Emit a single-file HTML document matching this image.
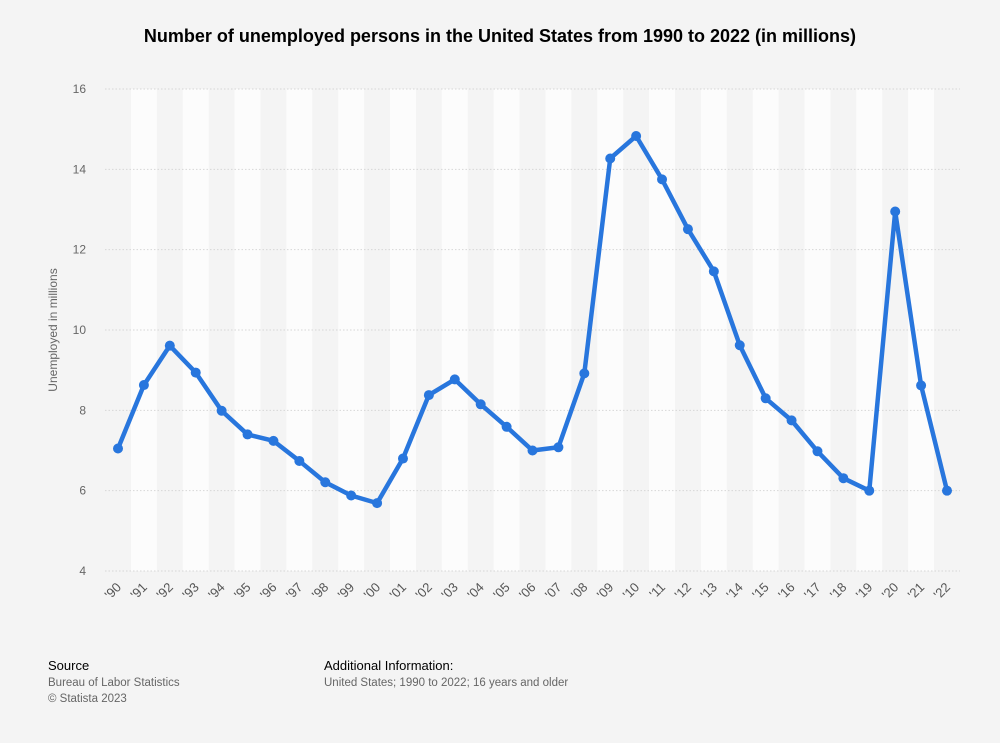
<!DOCTYPE html>
<html><head><meta charset="utf-8"><style>
body{margin:0;background:#f4f4f4;font-family:"Liberation Sans",Arial,sans-serif;}
svg{display:block}
</style></head><body>
<svg id="chart" width="1000" height="743" viewBox="0 0 1000 743">
<rect width="1000" height="743" fill="#f4f4f4"/>
<text x="500" y="42" text-anchor="middle" font-size="18" font-weight="bold" fill="#000">Number of unemployed persons in the United States from 1990 to 2022 (in millions)</text>
<g id="bands"></g><g id="grid"></g><g id="xt"></g><g id="yt"></g><g id="series"></g>
<text transform="translate(57,330) rotate(-90)" text-anchor="middle" font-size="12" fill="#666">Unemployed in millions</text>
<text x="48" y="670" font-size="13" fill="#000">Source</text>
<text x="48" y="686" font-size="11.5" fill="#666">Bureau of Labor Statistics</text>
<text x="48" y="702" font-size="11.5" fill="#666">© Statista 2023</text>
<text x="324" y="670" font-size="13" fill="#000">Additional Information:</text>
<text x="324" y="686" font-size="11.5" fill="#666">United States; 1990 to 2022; 16 years and older</text>
</svg>
<script>
const years=["'90","'91","'92","'93","'94","'95","'96","'97","'98","'99","'00","'01","'02","'03","'04","'05","'06","'07","'08","'09","'10","'11","'12","'13","'14","'15","'16","'17","'18","'19","'20","'21","'22"];
const values=[7.05,8.63,9.61,8.94,7.99,7.40,7.24,6.74,6.21,5.88,5.69,6.80,8.38,8.77,8.15,7.59,7.00,7.08,8.92,14.27,14.83,13.75,12.51,11.46,9.62,8.30,7.75,6.98,6.31,6.00,12.95,8.62,6.00];
const yTicks=[4,6,8,10,12,14,16];
const NS="http://www.w3.org/2000/svg";
const x0=118,x1=947,yTop=89,yBot=571,yMin=4,yMax=16;
const step=(x1-x0)/(years.length-1);
const xs=i=>x0+i*step;
const ys=v=>yBot-(v-yMin)/(yMax-yMin)*(yBot-yTop);
function mk(t,a,p){const e=document.createElementNS(NS,t);for(const k in a)e.setAttribute(k,a[k]);p.appendChild(e);return e;}
const bands=document.getElementById('bands');
years.forEach((y,i)=>{if(i%2===1){const r=mk('rect',{x:xs(i)-step/2,y:yTop,width:step,height:yBot-yTop,fill:'#fcfcfc'},bands);

}});
const grid=document.getElementById('grid'),yt=document.getElementById('yt');
yTicks.forEach(v=>{const l=mk('line',{x1:105,x2:960,y1:ys(v),y2:ys(v),stroke:'#d6d6d6','stroke-dasharray':'1.5,2'},grid);


const t=mk('text',{x:86,y:ys(v)+4,'text-anchor':'end','font-size':'12',fill:'#666'},yt);t.textContent=v;

});
const xt=document.getElementById('xt');
years.forEach((y,i)=>{const t=mk('text',{transform:`translate(${xs(i)+4},${588}) rotate(-45)`,'text-anchor':'end','font-size':'13',fill:'#555'},xt);t.textContent=y;

});
const s=document.getElementById('series');
const p=mk('polyline',{points:values.map((v,i)=>xs(i)+','+ys(v)).join(' '),fill:'none',stroke:'#2876dd','stroke-width':'4.5','stroke-linejoin':'round'},s);


values.forEach((v,i)=>{const c=mk('circle',{cx:xs(i),cy:ys(v),r:5,fill:'#2876dd'},s);

});
</script>
</body></html>
